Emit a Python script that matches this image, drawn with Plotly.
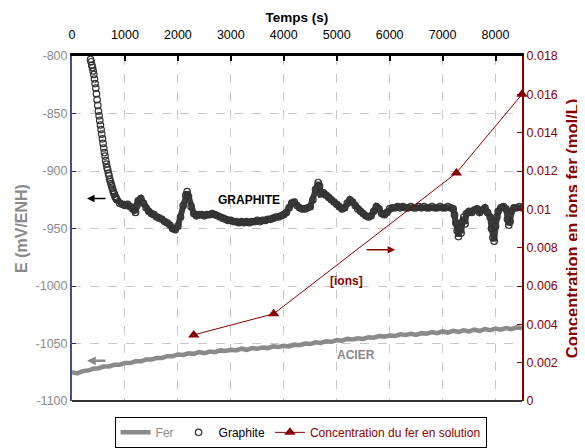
import plotly.graph_objects as go

# Graphite electrode potential (mV/ENH) vs time (s)
graphite_t = [350, 362, 375, 387, 400, 412, 425, 437, 450, 462, 475, 487, 500, 512, 525, 537,
              550, 562, 575, 587, 600, 612, 625, 637, 650, 662, 675, 687, 700, 712, 725, 737,
              750, 762, 775, 787, 800, 812, 825, 837, 850, 900, 950, 1000, 1050, 1100, 1150,
              1200, 1225, 1250,
              1300, 1350, 1400, 1450, 1500, 1550, 1600, 1650, 1700, 1750, 1800, 1850, 1900,
              1950, 2000, 2050, 2100, 2150, 2175, 2200, 2250, 2300, 2350, 2400, 2450, 2500,
              2550, 2600, 2650, 2700, 2750, 2800, 2850, 2900, 2950, 3000, 3050, 3100, 3150,
              3200, 3250, 3300, 3350, 3400, 3450, 3500, 3550, 3600, 3650, 3700, 3750, 3800,
              3850, 3900, 3950, 4000, 4050, 4100, 4150, 4200, 4250, 4300, 4350, 4400, 4450,
              4500, 4550, 4600, 4650, 4675, 4700, 4750, 4800, 4850, 4900, 4950, 5000, 5050,
              5100, 5150, 5200, 5250, 5300, 5350, 5400, 5450, 5500, 5550, 5600, 5650, 5700,
              5750, 5800, 5850, 5900, 5950, 6000, 6050, 6100, 6150, 6200, 6250, 6300, 6350,
              6400, 6450, 6500, 6550, 6600, 6650, 6700, 6750, 6800, 6850, 6900, 6950, 7000,
              7050, 7100, 7150, 7200, 7225, 7250, 7275, 7300, 7325, 7350, 7375, 7400, 7425,
              7450, 7500, 7550, 7600, 7650, 7700, 7750, 7800, 7850, 7900, 7925, 7950, 7975,
              8000, 8025, 8050, 8100, 8150, 8200, 8225, 8250, 8275, 8300, 8350, 8400, 8450, 8500]
graphite_e = [-803, -805, -808, -810, -813, -816, -820, -824, -828, -833, -838, -843, -848, -852,
              -856, -860, -864, -868, -872, -876, -880, -884, -887, -891, -894, -897, -899, -902,
              -904, -907, -909, -911, -913, -915, -917, -919, -920, -922, -923, -924,
              -925, -928, -929, -930, -929, -931, -933, -936,
              -930, -926, -924, -928, -932, -935, -937, -938, -940, -941, -942, -944, -945, -947,
              -950, -951, -948, -940, -930, -921, -918, -922, -931, -937, -939, -938, -938, -939,
              -938, -938, -937, -938, -939, -940, -941, -942, -943, -943, -944, -944, -945, -944,
              -945, -944, -945, -944, -944, -943, -944, -943, -943, -942, -942, -941, -940, -940,
              -939, -938, -936, -932, -928, -927, -930, -932, -933, -933, -932, -931, -925, -916,
              -910, -913, -920, -919, -921, -923, -925, -927, -929, -931, -933, -932, -928, -925,
              -927, -930, -933, -935, -937, -939, -940, -939, -935, -931, -933, -937, -938, -936,
              -933, -932, -932, -931, -932, -931, -932, -932, -931, -932, -932, -931, -932, -931,
              -932, -932, -931, -932, -932, -931, -932, -932, -931, -932, -933, -938, -945, -952,
              -957, -950, -954, -944, -940, -946, -937, -935, -936, -934, -933, -936, -934, -932,
              -936, -940, -950, -958, -961, -948, -940, -935, -932, -931, -933, -942, -947, -944,
              -935, -932, -932, -931, -932]

# Steel (Fer) electrode potential
fer_t = [0, 100, 200, 300, 400, 500, 600, 700, 800, 900, 1000, 1100, 1200, 1300, 1400, 1500,
         1600, 1700, 1800, 1900, 2000, 2100, 2200, 2300, 2400, 2500, 2600, 2700, 2800, 2900,
         3000, 3100, 3200, 3300, 3400, 3500, 3600, 3700, 3800, 3900, 4000, 4100, 4200, 4300,
         4400, 4500, 4600, 4700, 4800, 4900, 5000, 5100, 5200, 5300, 5400, 5500, 5600, 5700,
         5800, 5900, 6000, 6100, 6200, 6300, 6400, 6500, 6600, 6700, 6800, 6900, 7000, 7100,
         7200, 7300, 7400, 7500, 7600, 7700, 7800, 7900, 8000, 8100, 8200, 8300, 8400, 8500]
fer_e = [-1075, -1076, -1074, -1073.5, -1072, -1071.5, -1070, -1070, -1068.5, -1068.5, -1067,
         -1067, -1065.5, -1065.5, -1064, -1064, -1062.5, -1062.5, -1061, -1061, -1059.5, -1060,
         -1058.5, -1059, -1057.5, -1058.5, -1057, -1057.5, -1056, -1056.5, -1055.5, -1056,
         -1054.5, -1055.5, -1054, -1054.5, -1053.5, -1054, -1052.5, -1053, -1052, -1052.5,
         -1051, -1051.5, -1050, -1050.5, -1049, -1049.5, -1048, -1048.5, -1047, -1047.5, -1046,
         -1046.5, -1045.5, -1046, -1044.5, -1045, -1043.5, -1044, -1043, -1043.5, -1042,
         -1042.5, -1041.5, -1042.5, -1041, -1041.5, -1040, -1041, -1039.5, -1040.5, -1039,
         -1040, -1038.5, -1039.5, -1038, -1039, -1037.5, -1038.5, -1037, -1038, -1036.5,
         -1037.5, -1036, -1036.5]

# Iron concentration in solution (mol/L)
conc_t = [2300, 3810, 7260, 8500]
conc_c = [0.00345, 0.00455, 0.0119, 0.016]

e_ticks = [-1100, -1050, -1000, -950, -900, -850, -800]
e_labels = ["-1100", "-1050", "-1000", "-950", "-900", "-850", "-800"]

RED = "#880000"
GREY = "#8a8a8a"
FONT = "Liberation Sans, Arial, sans-serif"

fig = go.Figure()

fig.add_trace(go.Scatter(
    x=fer_t, y=fer_e, mode="lines", name="<span style='color:#8a8a8a'>Fer</span>",
    line=dict(color=GREY, width=4.5)))

# dense part of the graphite record merges into a dark band
band_t = [t for t in graphite_t if t >= 850]
band_e = [e for t, e in zip(graphite_t, graphite_e) if t >= 850]
fig.add_trace(go.Scatter(
    x=band_t, y=band_e, mode="lines", showlegend=False, hoverinfo="skip",
    line=dict(color="#3c3c3c", width=6)))

fig.add_trace(go.Scatter(
    x=graphite_t, y=graphite_e, mode="markers", name="Graphite",
    marker=dict(symbol="circle-open", size=6.5, color="#333333", line=dict(width=1.2))))

fig.add_trace(go.Scatter(
    x=conc_t, y=conc_c, mode="lines+markers", yaxis="y2",
    name="<span style='color:#880000'>Concentration du fer en solution</span>",
    line=dict(color=RED, width=1), marker=dict(symbol="triangle-up", size=10, color=RED),
    cliponaxis=False))

# page body has an 8px margin, so the figure is sized to fit the window
fig.update_layout(
    width=577, height=440,
    margin=dict(l=64, r=63, t=48, b=47, autoexpand=False),
    plot_bgcolor="white", paper_bgcolor="white",
    font=dict(family=FONT, size=12.5, color="black"),
    showlegend=True,
    legend=dict(orientation="h", x=0.508, xanchor="center", y=-0.046, yanchor="top",
                bordercolor="black", borderwidth=1, font=dict(size=12),
                itemwidth=30, tracegroupgap=0),
    xaxis=dict(
        side="top", range=[0, 8500], dtick=1000, tick0=0, automargin=False,
        ticks="inside", ticklen=5, tickcolor="black", tickwidth=1.5,
        showline=True, linecolor="black", linewidth=3,
        showgrid=True, gridcolor="#c8c8c8", griddash="dash", gridwidth=1,
        zeroline=False, ticklabelstandoff=9,
        title=dict(text="<b>Temps (s)</b>", font=dict(size=13.5), standoff=3),
        tickfont=dict(size=12.5, color="black")),
    yaxis=dict(
        range=[-1100, -800], tickvals=e_ticks, ticktext=e_labels, automargin=False,
        ticks="inside", ticklen=4, tickcolor="#22228a",
        showline=True, linecolor="#4a4a90", linewidth=2,
        showgrid=True, gridcolor="#c8c8c8", griddash="dash", gridwidth=1,
        zeroline=False,
        title=dict(text="<b>E (mV/ENH)</b>", font=dict(size=16, color="#8a8a8a"), standoff=4),
        tickfont=dict(size=12.5, color="#8a8a8a")),
    yaxis2=dict(
        overlaying="y", side="right", range=[0, 0.018], dtick=0.002, automargin=False,
        ticks="inside", ticklen=5, tickcolor=RED,
        showline=True, linecolor=RED, linewidth=2,
        showgrid=False, zeroline=False,
        title=dict(text="<b>Concentration en ions fer (mol/L)</b>",
                   font=dict(size=16.5, color=RED), standoff=10),
        tickfont=dict(size=12.5, color=RED)),
)

# bottom frame line
fig.add_shape(type="line", xref="paper", yref="paper", x0=0, x1=1, y0=0, y1=0,
              line=dict(color="#333333", width=2))

# labels
fig.add_annotation(x=3345, y=-925.5, text="<b>GRAPHITE</b>", showarrow=False,
                   font=dict(size=12, color="black"))
fig.add_annotation(x=5180, y=-996, text="<b>[ions]</b>", showarrow=False,
                   font=dict(size=12, color=RED))
fig.add_annotation(x=5360, y=-1060, text="<b>ACIER</b>", showarrow=False,
                   font=dict(size=12, color=GREY))

# arrows
fig.add_annotation(x=283, y=-924, ax=20, ay=0, text="", showarrow=True,
                   arrowhead=2, arrowsize=1, arrowwidth=1.5, arrowcolor="black")
fig.add_annotation(x=6105, y=-968.5, ax=-30, ay=0, text="", showarrow=True,
                   arrowhead=2, arrowsize=1, arrowwidth=1.5, arrowcolor=RED)
fig.add_annotation(x=283, y=-1065, ax=20, ay=0, text="", showarrow=True,
                   arrowhead=2, arrowsize=0.7, arrowwidth=2.5, arrowcolor=GREY)

fig.write_html("out.html")
